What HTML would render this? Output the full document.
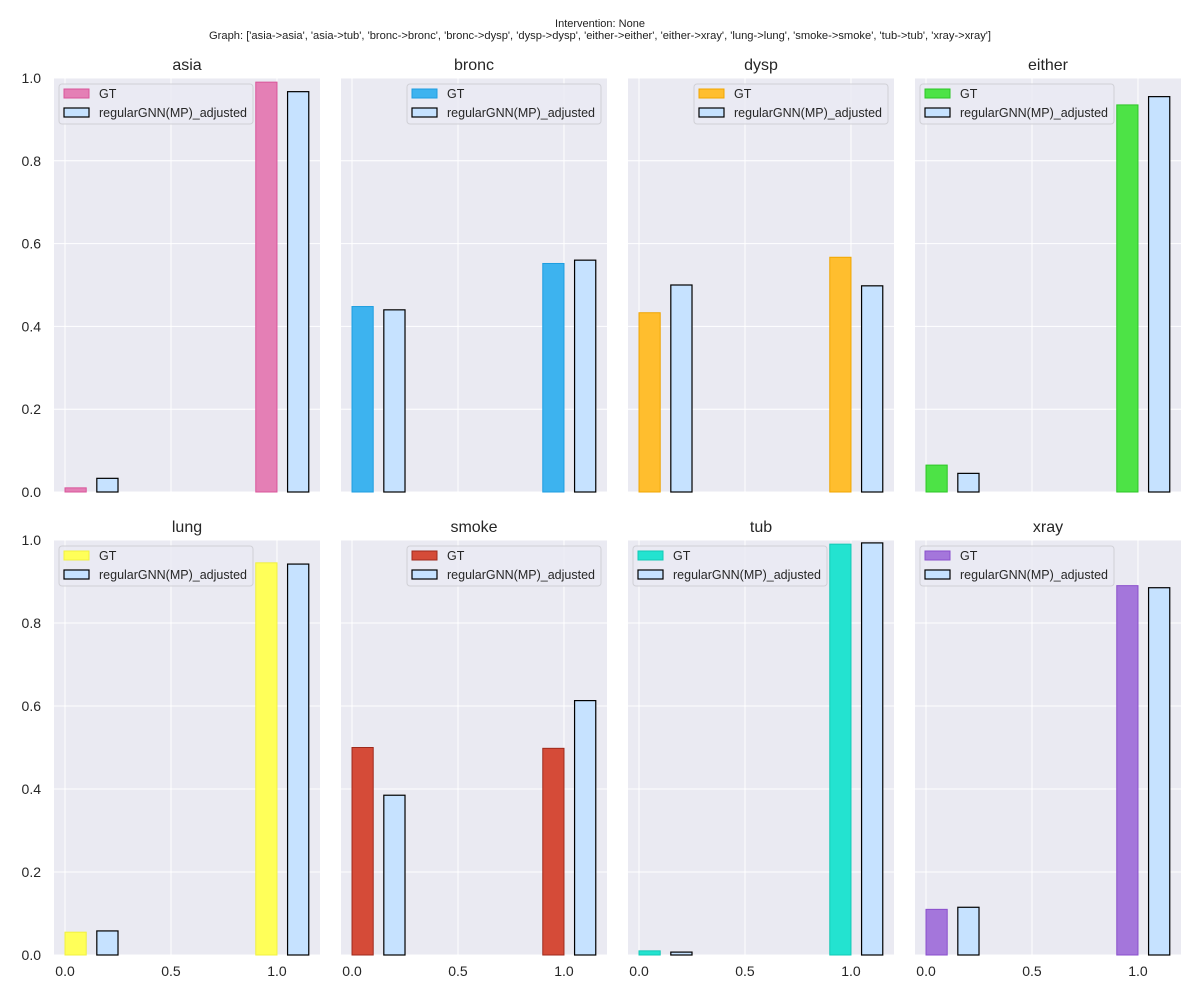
<!DOCTYPE html>
<html><head><meta charset="utf-8"><style>
body{margin:0;background:#fff;font-family:"Liberation Sans","DejaVu Sans",sans-serif;}
svg text{font-family:"Liberation Sans","DejaVu Sans",sans-serif;}
</style></head><body>
<svg id="c" width="1200" height="1000" xmlns="http://www.w3.org/2000/svg">
<text x="600" y="27" font-size="11" text-anchor="middle" fill="#222">Intervention: None</text>
<text x="600" y="39" font-size="11.2" text-anchor="middle" fill="#222" textLength="782" lengthAdjust="spacingAndGlyphs">Graph: ['asia-&gt;asia', 'asia-&gt;tub', 'bronc-&gt;bronc', 'bronc-&gt;dysp', 'dysp-&gt;dysp', 'either-&gt;either', 'either-&gt;xray', 'lung-&gt;lung', 'smoke-&gt;smoke', 'tub-&gt;tub', 'xray-&gt;xray']</text>
</svg>
<script>
const variables=["asia","bronc","dysp","either","lung","smoke","tub","xray"];
const gtValues=[[0.01,0.99],[0.448,0.552],[0.433,0.567],[0.065,0.935],[0.055,0.945],[0.50,0.498],[0.01,0.99],[0.11,0.89]];
const predValues=[[0.033,0.967],[0.44,0.56],[0.50,0.498],[0.045,0.955],[0.058,0.942],[0.385,0.613],[0.007,0.993],[0.115,0.885]];
const gtColors=["#e47fb5","#3db3ef","#ffbe2e","#4de346","#ffff59","#d54b38","#23e3d0","#a476db"];
const gtEdges=["#d9559a","#1e9ee0","#f0a500","#2cc626","#f0f040","#9e2a1c","#12c9b6","#8a4fcc"];
const legendLoc=["left","right","right","left","left","right","left","left"];
const xTicks=[0,0.5,1.0];
const xTickLabels=["0.0","0.5","1.0"];
const yTicks=[0,0.2,0.4,0.6,0.8,1.0];
const yTickLabels=["0.0","0.2","0.4","0.6","0.8","1.0"];
const categories=[0,1];

const svg=document.getElementById('c');
const NS="http://www.w3.org/2000/svg";
function mk(tag,attrs,parent){const e=document.createElementNS(NS,tag);for(const k in attrs)e.setAttribute(k,attrs[k]);(parent||svg).appendChild(e);return e;}
const colX=[54,341,628,915], rowY=[78,540], W=266;
const xmin=-0.052,xmax=1.203;
for(let i=0;i<8;i++){
  const L=colX[i%4], T=rowY[Math.floor(i/4)], h=i<4?414:415;
  const sx=v=>L+(v-xmin)/(xmax-xmin)*W;
  const sy=v=>T+h-v*h;
  const g=mk('g',{});
  
  
  const bg=mk('rect',{x:L,y:T,width:W,height:h,fill:'#eaeaf2'},g);
  
  
  yTicks.forEach((t,k)=>{
    mk('line',{x1:L,x2:L+W,y1:sy(t),y2:sy(t),stroke:'#fff','stroke-width':1},g);
    if(i%4===0){const tx=mk('text',{x:L-13,y:sy(t)+5,'font-size':14,'text-anchor':'end',fill:'#262626'},g);tx.textContent=yTickLabels[k];
      
      }
  });
  xTicks.forEach((t,k)=>{
    mk('line',{x1:sx(t),x2:sx(t),y1:T,y2:T+h,stroke:'#fff','stroke-width':1},g);
    if(i>=4){const tx=mk('text',{x:sx(t),y:T+h+21,'font-size':14,'text-anchor':'middle',fill:'#262626'},g);tx.textContent=xTickLabels[k];
      
      }
  });
  categories.forEach((c,k)=>{
    const gx=c===0?0:0.9;
    const r1=mk('rect',{x:sx(gx),y:sy(gtValues[i][k]),width:sx(gx+0.1)-sx(gx),height:sy(0)-sy(gtValues[i][k]),fill:gtColors[i],stroke:gtEdges[i],'stroke-width':1},g);
    
    
    const px=c+0.15-(c===1?0.1:0);
    const r2=mk('rect',{x:sx(px),y:sy(predValues[i][k]),width:sx(px+0.1)-sx(px),height:sy(0)-sy(predValues[i][k]),fill:'#c6e2ff',stroke:'#000','stroke-width':1.2},g);
    
    
  });
  const ti=mk('text',{x:L+W/2,y:T-8,'font-size':16,'text-anchor':'middle',fill:'#262626'},g);
  ti.textContent=variables[i];
  
  
  const lw=194, lx=legendLoc[i]==='left'?L+5:L+W-lw-6, ly=T+6;
  const lg=mk('g',{},g);
  
  
  mk('rect',{x:lx,y:ly,width:lw,height:40,rx:3,fill:'#eaeaf2',stroke:'#d0d0d6','stroke-width':1,'fill-opacity':0.8},lg);
  mk('rect',{x:lx+5,y:ly+5,width:25,height:9,fill:gtColors[i],stroke:gtEdges[i]},lg);
  mk('rect',{x:lx+5,y:ly+24,width:25,height:9,fill:'#c6e2ff',stroke:'#000','stroke-width':1.2},lg);
  const t1=mk('text',{x:lx+40,y:ly+14,'font-size':12.5,fill:'#262626'},lg);t1.textContent='GT';
  
  
  const t2=mk('text',{x:lx+40,y:ly+33,'font-size':12.5,fill:'#262626'},lg);t2.textContent='regularGNN(MP)_adjusted';
  
  
}
</script>
</body></html>
